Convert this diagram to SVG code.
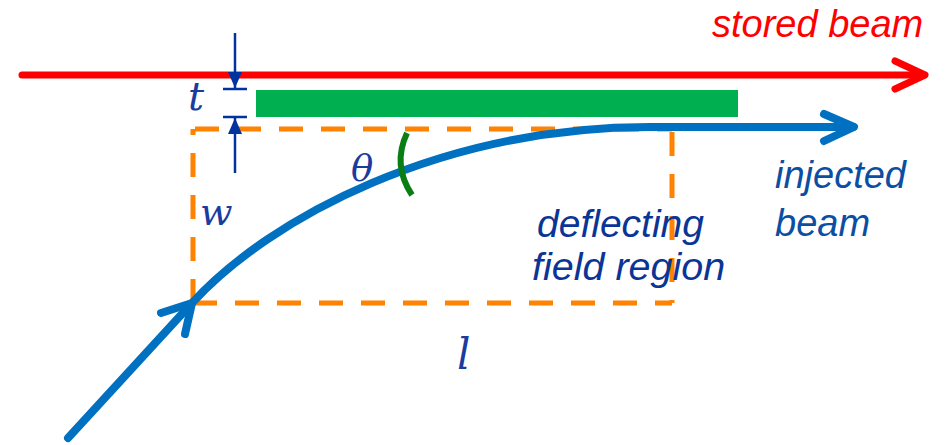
<svg xmlns="http://www.w3.org/2000/svg" width="950" height="445" viewBox="0 0 950 445">
<style>
.lbl{font-family:"Liberation Sans",Arial,sans-serif;font-style:italic}
.math{font-family:"DejaVu Serif","Liberation Serif",serif;font-style:italic;fill:#1a3c9e}
.dash{stroke:#ff8200;stroke-width:5;stroke-dasharray:24 18;fill:none}
.beam{stroke:#0070c0;stroke-width:8;fill:none;stroke-linecap:round;stroke-linejoin:round}
.red{stroke:#ff0000;stroke-width:7;fill:none;stroke-linecap:round;stroke-linejoin:round}
.dim{stroke:#0033a0;stroke-width:2.5;fill:none}
</style>
<defs>
<marker id="dimarrow" viewBox="0 0 16 14" refX="16" refY="7" markerWidth="16" markerHeight="14" markerUnits="userSpaceOnUse" orient="auto">
<path d="M0,0 L16,7 L0,14 Z" fill="#0033a0"/>
</marker>
</defs>
<g id="field-region">
<path class="dash" d="M193,303 H672"/>
<path class="dash" d="M193,303 V129"/>
<path class="dash" d="M195,129 H672"/>
<path class="dash" d="M672,132 V303"/>
</g>
<g id="septum">
<rect x="256" y="90" width="482" height="27" fill="#00b050"/>
</g>
<g id="connectors">
<path class="red" d="M22,75 H924"/>
<path class="red" d="M895,61 L925,75 L895,89"/>
<path class="beam" d="M68,438 L192,303 C270,218 440,127 650,127 H853"/>
<path class="beam" d="M824,114 L854,127 L824,141"/>
<path class="beam" d="M161,313 L192,303 L185,334"/>
<path class="dim" d="M235,33 V88" marker-end="url(#dimarrow)"/>
<path class="dim" d="M235,173 V118" marker-end="url(#dimarrow)"/>
<path class="dim" d="M223,89 H247 M223,117 H247"/>
<path d="M407,133 Q392,165 412,195" stroke="#0a7d14" stroke-width="6" fill="none"/>
</g>
<g id="labels">
<text class="lbl" x="712" y="37" fill="#ff0000" font-size="38">stored beam</text>
<text class="lbl" x="775" y="188" fill="#0b4ea2" font-size="38">injected</text>
<text class="lbl" x="775" y="236" fill="#0b4ea2" font-size="38">beam</text>
<text class="lbl" x="537" y="237" fill="#0a3597" font-size="39">deflecting</text>
<text class="lbl" x="532" y="280" fill="#0a3597" font-size="39.5">field region</text>
<text class="math" x="188" y="110" font-size="40">t</text>
<text class="math" x="200" y="225" font-size="38">w</text>
<text class="math" x="351" y="181" font-size="37">θ</text>
<text class="math" x="457" y="369" font-size="42">l</text>
</g>
</svg>
